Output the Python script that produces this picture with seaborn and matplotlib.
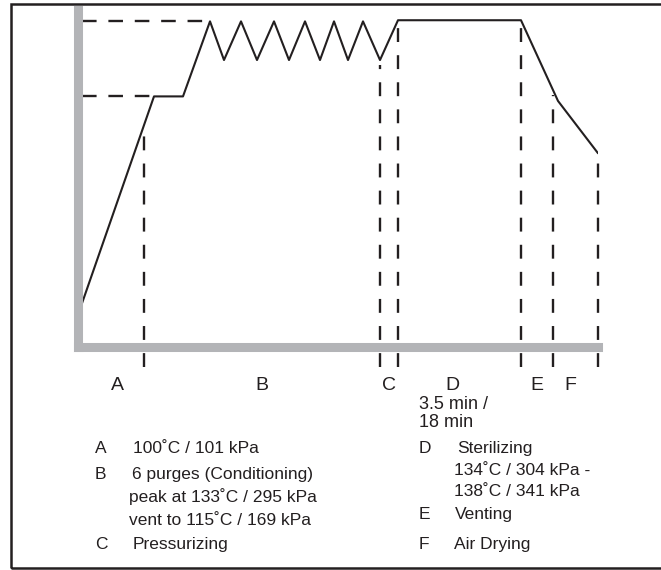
import numpy as np
import matplotlib
matplotlib.use('Agg')
import matplotlib.pyplot as plt
import matplotlib.transforms as mtransforms
from matplotlib.patches import Rectangle
import seaborn as sns

# Schematic cycle: time (arbitrary units) vs chamber temperature (deg C)
cycle_time = [0.4, 7.6, 10.5, 13.2, 14.6, 16.3, 17.9, 19.6, 21.1, 22.7,
              24.2, 25.6, 27.0, 28.5, 30.2, 32.0, 44.3, 48.0, 52.0]
cycle_temp = [9, 100, 100, 133, 116, 133, 116, 133, 116, 133,
              116, 133, 116, 133, 116, 133.5, 133.5, 98, 75]

# end of each phase
phase_names = ['A', 'B', 'C', 'D', 'E', 'F']
phase_ends = [6.6, 30.2, 32.0, 44.3, 47.5, 52.0]

# dashed guide levels and where they stop
guide_levels = [133, 100]
guide_stops = [13.2, 7.6]

duration_lines = ['3.5 min /', '18 min']

legend_left = [
    ('A', ['100˚C / 101 kPa']),
    ('B', ['6 purges (Conditioning)', 'peak at 133˚C / 295 kPa', 'vent to 115˚C / 169 kPa']),
    ('C', ['Pressurizing']),
]
legend_right = [
    ('D', ['Sterilizing', '134˚C / 304 kPa -', '138˚C / 341 kPa']),
    ('E', ['Venting']),
    ('F', ['Air Drying']),
]

W, H = 661, 570
sns.set_theme(style='white')
plt.rcParams['font.family'] = ['Liberation Sans', 'DejaVu Sans']
plt.rcParams['text.color'] = '#231f20'

ink = '#231f20'
grey = '#b3b4b7'

fig = plt.figure(figsize=(W / 100, H / 100), dpi=100)
ax = fig.add_axes([78 / W, 1 - 346.5 / H, (598 - 78) / W, 336.5 / H])
ax.set_xlim(0, 52.0)
ax.set_ylim(-10, 138)
ax.set_xticks([])
ax.set_yticks([])
ax.set_facecolor('none')
for side in ['top', 'right']:
    ax.spines[side].set_visible(False)
for side in ['left', 'bottom']:
    ax.spines[side].set_color(grey)
    ax.spines[side].set_linewidth(6.5)
    ax.spines[side].set_capstyle('projecting')

# temperature curve
sns.lineplot(x=cycle_time, y=cycle_temp, ax=ax, color=ink, linewidth=1.5,
             sort=False, estimator=None)

# dashed horizontal guides
lw_d = 1.7
ax.hlines(guide_levels, xmin=0.4, xmax=guide_stops, colors=ink, linewidth=lw_d,
          linestyles=(0, (10.5 / lw_d, 8.5 / lw_d)))

# dashed phase boundaries, from below the axis up to the curve
tops = np.interp(phase_ends, cycle_time, cycle_temp) - 2
ax.vlines(phase_ends, ymin=-19, ymax=tops, colors=ink, linewidth=lw_d,
          linestyles=(0, (10 / lw_d, 9.5 / lw_d)), clip_on=False, zorder=1.5)

# phase letters under the axis
starts = [cycle_time[0]] + phase_ends[:-1]
nudge = [0.4, 0, 0, -0.75, 0, -0.5]
blend = mtransforms.blended_transform_factory(ax.transData, fig.transFigure)
for name, s, e, dx in zip(phase_names, starts, phase_ends, nudge):
    ax.text((s + e) / 2 + dx, 1 - 390 / H, name, transform=blend, ha='center',
            va='baseline', fontsize=14, clip_on=False)


def put(px, py, s, size=12.5):
    fig.text(px / W, 1 - py / H, s, ha='left', va='baseline', fontsize=size)


put(419, 409, duration_lines[0], 13)
put(419, 427, duration_lines[1], 13)

# key
left_rows = [453, 479, 502, 525, 549]
left_x = [133, 132, 129, 129, 133]
right_rows = [453, 475, 496, 519, 549]
right_x = [457, 454, 454, 455, 454]

i = 0
for key, lines in legend_left:
    put(95, left_rows[i], key)
    for ln in lines:
        put(left_x[i], left_rows[i], ln)
        i += 1
i = 0
for key, lines in legend_right:
    put(419, right_rows[i], key)
    for ln in lines:
        put(right_x[i], right_rows[i], ln)
        i += 1

# outer frame (open on the right edge)
fig.patches.append(Rectangle((11 / W, 1 - 568 / H), 1.0, (568 - 4) / H,
                             transform=fig.transFigure, fill=False,
                             edgecolor=ink, linewidth=1.8, clip_on=False))

fig.savefig('out.png', dpi=100)
